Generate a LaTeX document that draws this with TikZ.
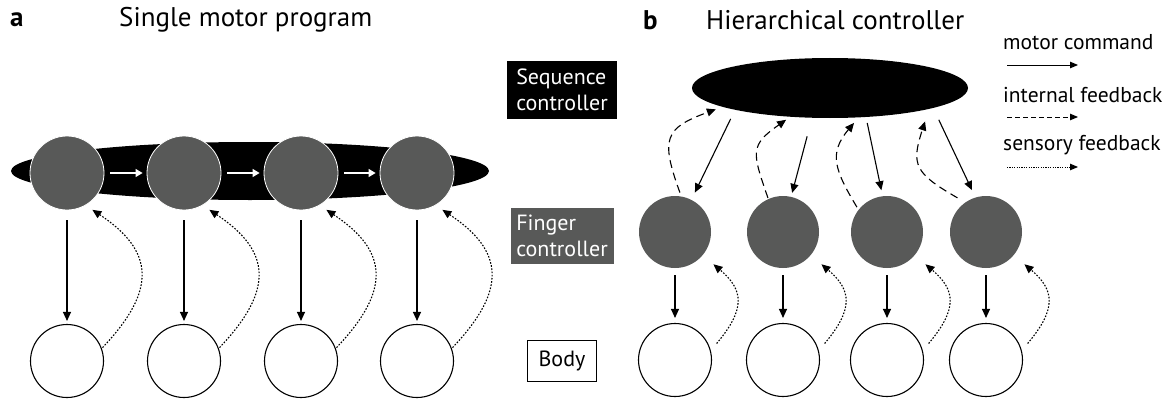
\documentclass[tikz,border=0pt]{standalone}
\usepackage{fontspec}
\setmainfont{PT Sans}
\usetikzlibrary{arrows.meta,shapes.geometric,positioning}
\definecolor{ctrlgray}{RGB}{88,89,88}
\newcommand\titlefont{\fontsize{27}{30}\selectfont}
\tikzset{
  cmd/.style={line width=1.1pt, -{Triangle[length=9pt,width=8pt]}},
  internal/.style={cmd, dash pattern=on 8pt off 5pt},
  sensory/.style={cmd, dash pattern=on 1.6pt off 1.6pt},
  fingerA/.style={circle, fill=ctrlgray, draw=white, line width=0.8pt,
    minimum size=74pt, inner sep=0},
  finger/.style={circle, fill=ctrlgray, minimum size=72pt, inner sep=0},
  body/.style={circle, draw=black, line width=1.1pt, minimum size=73pt,
    inner sep=0},
  seqfill/.style={ellipse, fill=black, inner sep=0},
  labelbox/.style={align=left, inner sep=0, text=white}
}
\begin{document}
\begin{tikzpicture}[x=1pt, y=1pt, font=\fontsize{22}{26}\selectfont]
  \useasboundingbox (0,0) rectangle (1173,400);
  % panel titles
  \node[inner sep=0, anchor=west, font=\titlefont\bfseries] (tita) at (10,380) {a};
  \node[inner sep=0, anchor=west, font=\titlefont] (titlea) at (119,380)
    {Single motor program};
  \node[inner sep=0, anchor=west, font=\titlefont\bfseries] (titb) at (643,380) {b};
  \node[inner sep=0, anchor=west, font=\titlefont] (titleb) at (706,380)
    {Hierarchical controller};

  % a: one sequence with the finger units inside it
  \node[seqfill, minimum width=478pt, minimum height=58pt] (seqA) at (250,229) {};
  \foreach \n/\x in {1/67,2/184,3/301,4/417}{
    \node[fingerA] (a\n) at (\x,227) {};
    \node[body] (ab\n) at (\x,39) {};
    \draw[cmd, shorten <=10pt, shorten >=3pt] (a\n) -- (ab\n);
    \draw[sensory, shorten <=1pt, shorten >=8pt] (ab\n.20)
      to[bend right=50, looseness=1.45] (a\n.-60);
  }
  % chain inside the sequence
  \foreach \n/\m in {1/2,2/3,3/4}
    \draw[white, line width=1.1pt, -{Triangle[length=7pt,width=8pt]},
      shorten <=6pt, shorten >=4pt] (a\n) -- (a\m);

  % level labels
  \node[labelbox, fill=black, minimum width=110pt, minimum height=57pt]
    (seqlbl) at (562,310) {Sequence\\controller};
  \node[labelbox, fill=ctrlgray, minimum width=103pt, minimum height=56pt]
    (fingerlbl) at (562,164) {Finger\\controller};
  \node[draw, line width=0.8pt, minimum width=69pt, minimum height=41pt,
    inner sep=0] (bodylbl) at (562,39) {Body};

  % b: sequence controller above separate finger controllers
  \node[seqfill, minimum width=276pt, minimum height=60pt] (seqB) at (830,312) {};
  \foreach \n/\x in {1/675,2/783,3/887,4/986}{
    \node[finger] (b\n) at (\x,168) {};
    \node[body] (bb\n) at (\x,40) {};
    \draw[cmd, shorten <=7pt, shorten >=5pt] (b\n) -- (bb\n);
    \draw[sensory, shorten <=9pt, shorten >=14pt] (bb\n.15)
      to[bend right=45, looseness=1.45] (b\n.-40);
  }
  % motor commands down from the sequence
  \foreach \n/\s/\e/\p/\q in {1/-167.5/63/10/8, 2/-121.4/77/19/4,
      3/-39.2/97/6/6, 4/-11.9/107/13/8}
    \draw[cmd, shorten <=\p pt, shorten >=\q pt] (seqB.\s) -- (b\n.\e);
  % internal feedback back up
  \draw[internal, shorten <=4pt, shorten >=7pt] (b1.80)
    to[out=110, in=200, looseness=1.6] (seqB.-170);
  \draw[internal, shorten <=1pt, shorten >=5pt] (b2.114)
    to[out=109, in=215, looseness=1.5] (seqB.-144);
  \draw[internal, shorten <=3pt, shorten >=7pt] (b3.142)
    to[out=121, in=230, looseness=1.3] (seqB.-46.5);
  \draw[internal, shorten <=9pt, shorten >=13pt] (b4.125)
    to[out=150, in=252, looseness=1.5] (seqB.-12.7);

  % legend
  \begin{scope}[font=\fontsize{21.5}{24}\selectfont]
    \node[inner sep=0, anchor=west] (lgcmd) at (1003,358) {motor command};
    \node[inner sep=0, anchor=west] (lgint) at (1003,305) {internal feedback};
    \node[inner sep=0, anchor=west] (lgsen) at (1003,255) {sensory feedback};
  \end{scope}
  \coordinate (cmdL) at (1007,335);
  \coordinate (cmdR) at (1078,335);
  \coordinate (intL) at (1007,283);
  \coordinate (intR) at (1078,283);
  \coordinate (senL) at (1007,233);
  \coordinate (senR) at (1078,233);
  \draw[cmd, line width=0.9pt, -{Triangle[length=8pt,width=6.5pt]}] (cmdL) -- (cmdR);
  \draw[internal, line width=0.9pt, dash pattern=on 5pt off 3pt,
    -{Triangle[length=8pt,width=6.5pt]}] (intL) -- (intR);
  \draw[sensory, line width=0.9pt, dash pattern=on 1.2pt off 1.2pt,
    -{Triangle[length=8pt,width=6.5pt]}] (senL) -- (senR);
\end{tikzpicture}
\end{document}
